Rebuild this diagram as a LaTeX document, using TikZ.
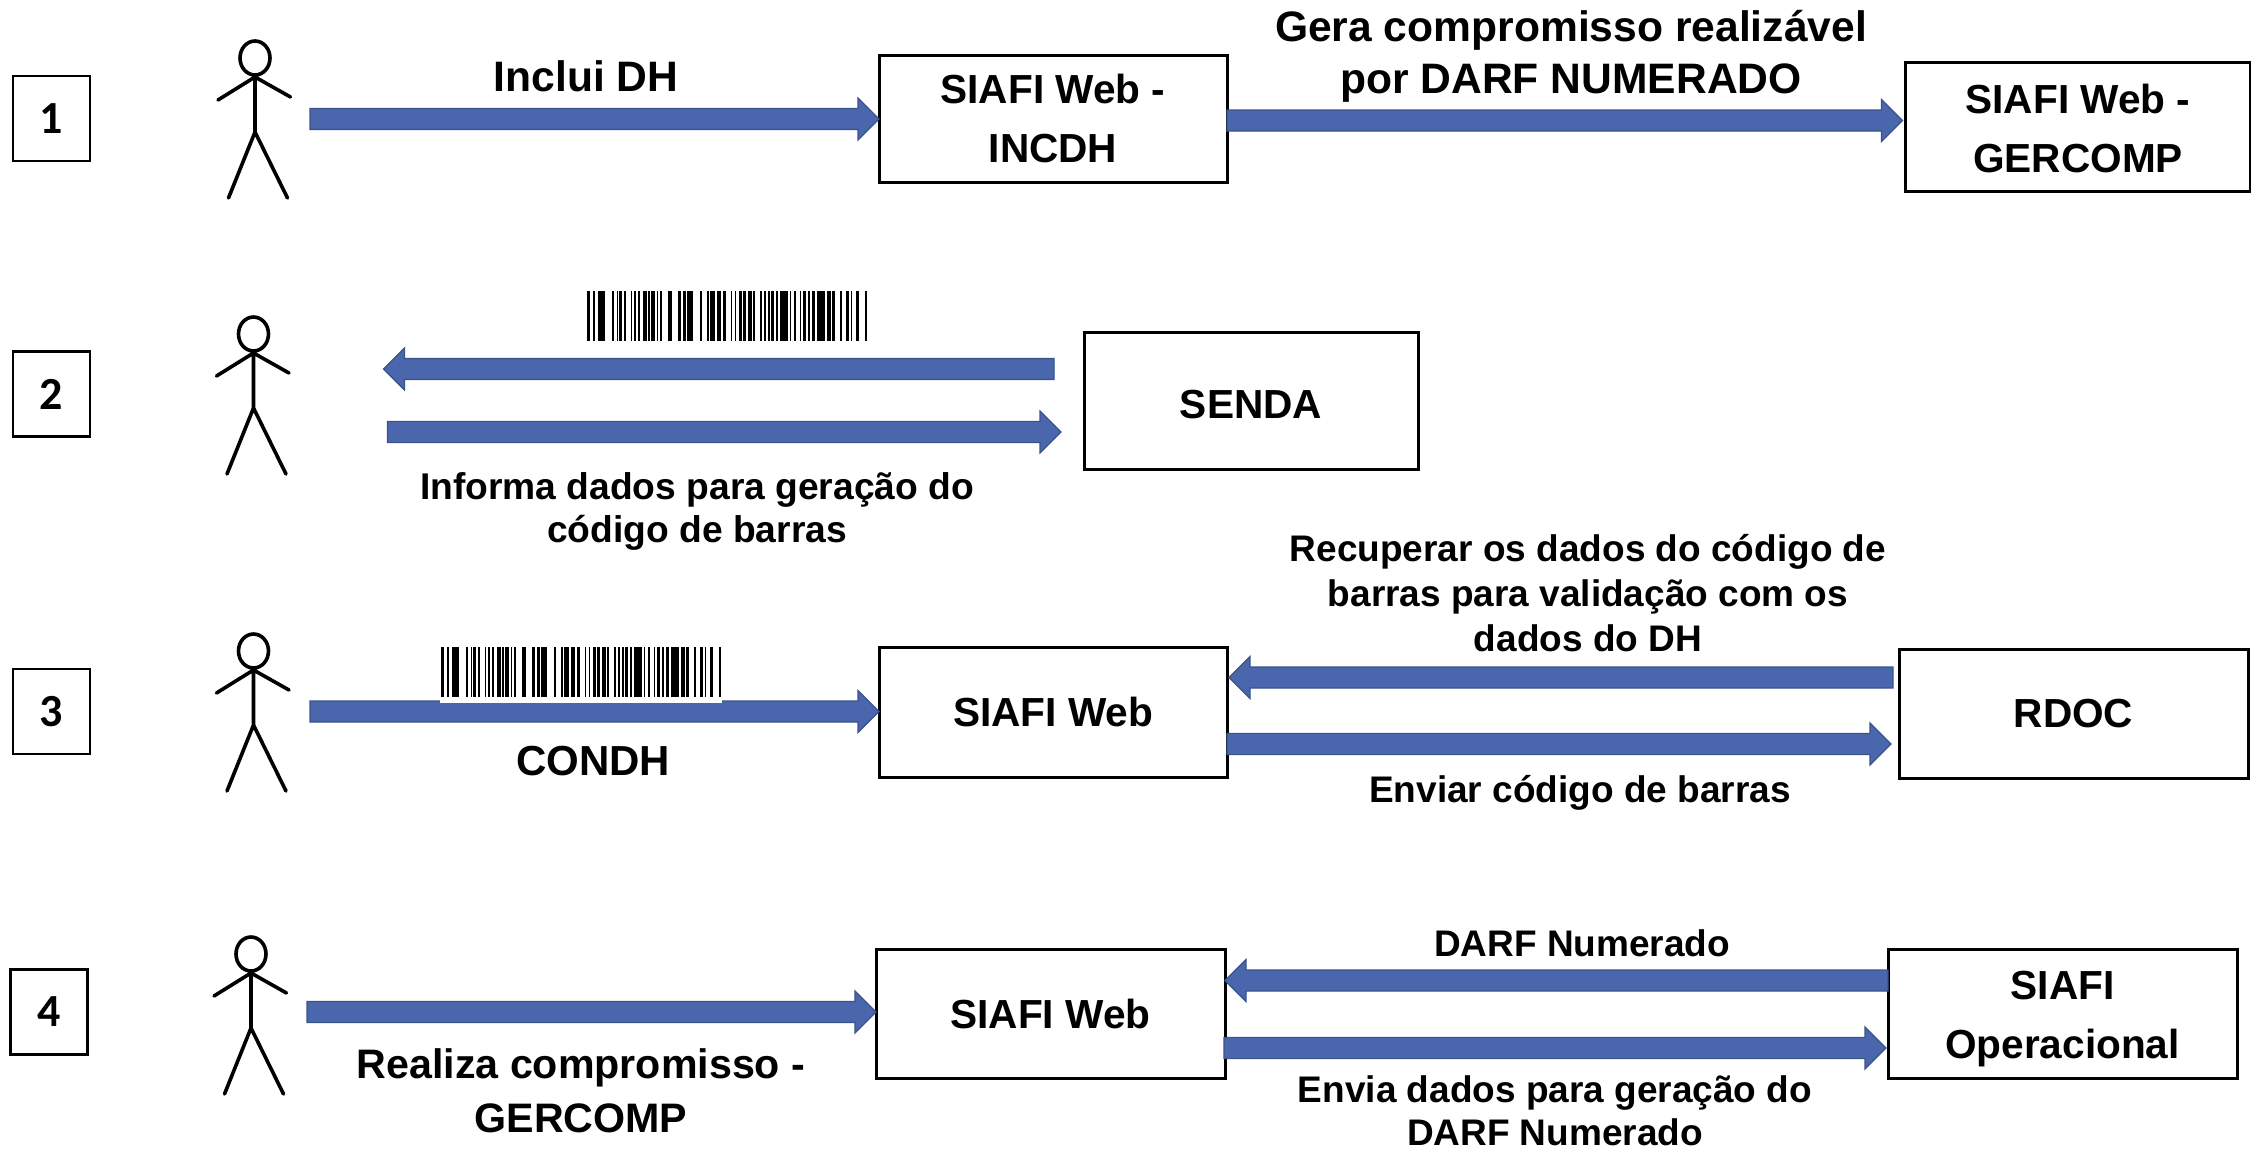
\documentclass[tikz,border=0pt]{standalone}
\usepackage{fontspec}
\setmainfont{Liberation Sans}
\newfontfamily\numfont{Carlito}
\usetikzlibrary{calc}
\definecolor{arrfill}{HTML}{4A66AC}
\definecolor{arrline}{HTML}{3B5389}
\newcommand\barrow[2]{\draw[blockarrow] let \p1=#1,\p2=#2,\n1={\x2>\x1?1:-1} in
  (\x1,{\y1-5.25pt}) -- ({\x2-\n1*10.5pt},{\y1-5.25pt}) -- ({\x2-\n1*10.5pt},{\y1-10.5pt}) --
  (\x2,\y1) -- ({\x2-\n1*10.5pt},{\y1+10.5pt}) -- ({\x2-\n1*10.5pt},{\y1+5.25pt}) -- (\x1,{\y1+5.25pt}) -- cycle;}
\newcommand\barbars{%
  \foreach \a/\b in {6/14,25/31,38/60,80/88,96/100,103/111,117/124,137/141,147/152,159/166,175/187,189/194,199/211,216/219,224/230,248/260,280/289,295/302,307/324,345/350,365/373,376/389,397/409,415/423,
    437/442,450/454,462/472,475/483,490/500,505/511,524/531,536/542,548/554,557/568,573/578,585/608,614/619,627/632,645/649,655/663,669/675,681/691,697/720,727/737,742/750,765/771,783/791,797/802,813/823,841/847}
    \fill[black] ({\a/3},0) rectangle ({\b/3},50);}
\tikzset{
  blockarrow/.style={fill=arrfill,draw=arrline,line width=0.6pt,line join=miter},
  sysbox/.style={draw=black,fill=white,line width=1.5pt,inner sep=0pt,outer sep=0pt,align=center,
    font=\fontsize{20.3}{29.5}\selectfont\bfseries},
  numbox/.style={draw=black,fill=white,line width=1.4pt,inner sep=0pt,outer sep=0pt,
    minimum width=38.5pt,minimum height=42.5pt,font=\fontsize{23}{27}\numfont\bfseries},
  biglab/.style={inner sep=0pt,align=center,font=\fontsize{21}{27}\selectfont\bfseries},
  smlab/.style={inner sep=0pt,align=center,font=\fontsize{18.5}{22}\selectfont\bfseries},
  person/.pic={
    \draw[line width=1.8pt,black,line cap=round,line join=round]
      (255,58) ellipse [x radius=15,y radius=17]
      (218,100) -- (255,77) -- (290.5,97)
      (255,75) -- (255,132)
      (228.5,198) -- (255,132) -- (287.5,198);
  }
}
\begin{document}
\begin{tikzpicture}[x=0.5pt,y=-0.5pt]
\useasboundingbox (0,0) rectangle (2251,1152);
% row markers
\node[numbox] (n1) at (51.5,118.5) {1};
\node[numbox] (n2) at (51.5,394) {2};
\node[numbox] (n3) at (51.5,711.5) {3};
\node[numbox] (n4) at (49,1012) {4};
% persons
\pic (p1) at (0,0) {person};
\pic (p2) at (-1.5,276) {person};
\pic (p3) at (-1.5,593) {person};
\pic (p4) at (-4,896) {person};
% system boxes
\node[sysbox,minimum width=174pt,minimum height=63.5pt] (inc) at (1053,118.5) {SIAFI Web -\\INCDH};
\node[sysbox,minimum width=172.5pt,minimum height=64.5pt] (ger) at (2078,126.5) {\rule{0pt}{16.3pt}SIAFI Web -\\GERCOMP};
\node[sysbox,minimum width=167pt,minimum height=68.5pt] (senda) at (1251,400.5) {\rule{0pt}{17.8pt}SENDA};
\node[sysbox,minimum width=174pt,minimum height=65pt] (sw3) at (1053,712) {SIAFI Web};
\node[sysbox,minimum width=174.5pt,minimum height=64.5pt] (rdoc) at (2073.5,713.5) {RDOC};
\node[sysbox,minimum width=174.5pt,minimum height=64.5pt] (sw4) at (1050.5,1013.5) {SIAFI Web};
\node[sysbox,minimum width=174.5pt,minimum height=64.5pt] (op) at (2062.5,1013.5) {\rule{0pt}{19.8pt}SIAFI\\Operacional};
% free arrow ends
\coordinate (s1) at (310,119);
\coordinate (y12) at (0,120.5);
\coordinate (s2) at (1054,369);
\coordinate (e2) at (383.5,369);
\coordinate (s2b) at (387.5,432);
\coordinate (s3) at (310,711.5);
\coordinate (y3a) at (0,677.5);
\coordinate (y3b) at (0,744);
\coordinate (s4) at (307,1012);
\coordinate (y4a) at (0,980.5);
\coordinate (y4b) at (0,1048);
% arrows
\barrow{(s1)}{(inc.west |- s1)}
\barrow{(inc.east |- y12)}{($(ger.west |- y12)+(-3,0)$)}
\barrow{(s2)}{(e2)}
\barrow{(s2b)}{($(senda.west |- s2b)+(-23,0)$)}
\barrow{(s3)}{(sw3.west |- s3)}
\barrow{($(rdoc.west |- y3a)+(-6,0)$)}{($(sw3.east |- y3a)+(2,0)$)}
\barrow{(sw3.east |- y3b)}{($(rdoc.west |- y3b)+(-8,0)$)}
\barrow{(s4)}{(sw4.west |- s4)}
\barrow{(op.west |- y4a)}{(sw4.east |- y4a)}
\barrow{($(sw4.east |- y4b)+(-1,0)$)}{($(op.west |- y4b)+(-2,0)$)}
% bar codes
\begin{scope}[shift={(585,291)}] \barbars \end{scope}
\fill[white] (440,640) rectangle (722,703);
\begin{scope}[shift={(439,647)}] \barbars \end{scope}
% labels
\node[biglab,font=\fontsize{21.3}{27}\selectfont\bfseries] (l1) at (586,76) {Inclui DH};
\node[biglab,font=\fontsize{21.3}{26}\selectfont\bfseries] (l2) at (1571,56) {Gera compromisso realizável\\por DARF NUMERADO};
\node[smlab,font=\fontsize{18.6}{21.5}\selectfont\bfseries] (l3) at (697,511) {Informa dados para geração do\\código de barras};
\node[smlab,font=\fontsize{18.5}{22.5}\selectfont\bfseries] (l4) at (1588,593) {Recuperar os dados do código de\\barras para validação com os\\dados do DH};
\node[smlab] (l5) at (1580,793) {Enviar código de barras};
\node[biglab] (l6) at (593,761) {CONDH};
\node[smlab] (l7) at (1582,943) {DARF Numerado};
\node[smlab,font=\fontsize{18.5}{21.5}\selectfont\bfseries] (l8) at (1555,1111) {Envia dados para geração do\\DARF Numerado};
\node[biglab,font=\fontsize{20.6}{27}\selectfont\bfseries] (l9) at (581,1091) {Realiza compromisso -\\GERCOMP};
\end{tikzpicture}
\end{document}
